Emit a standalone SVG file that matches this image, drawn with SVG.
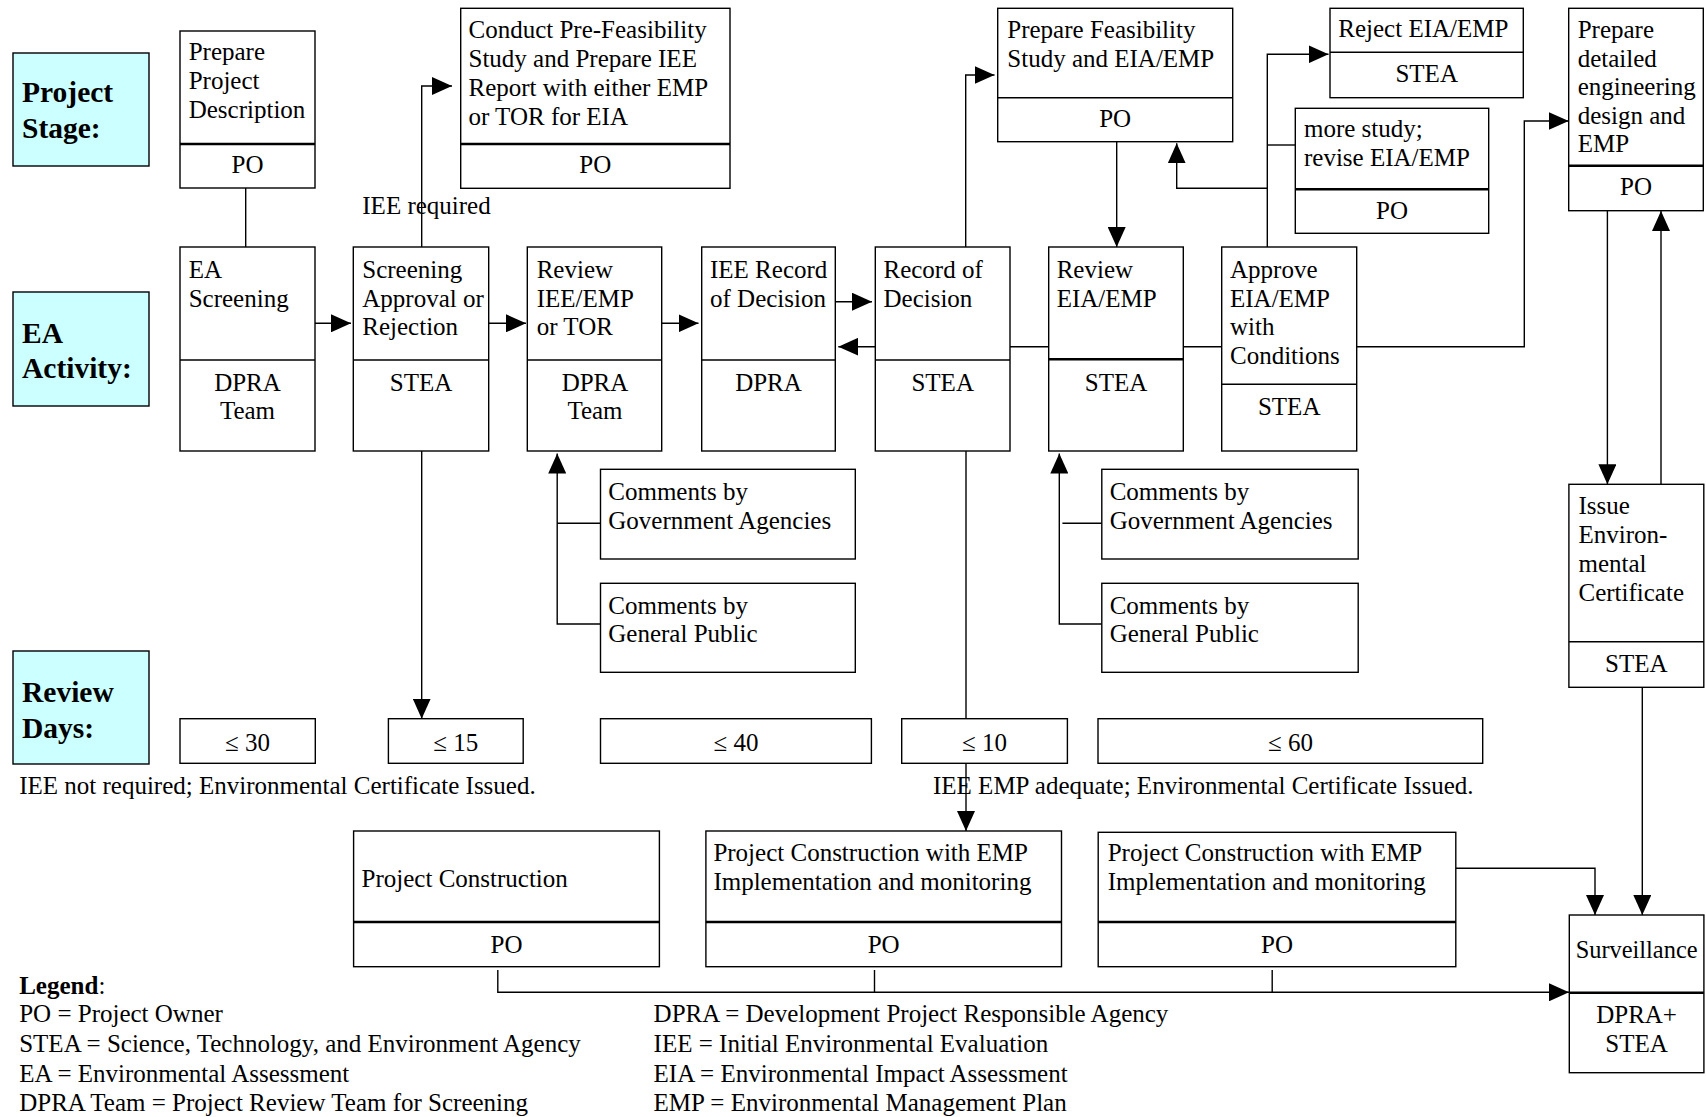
<svg xmlns="http://www.w3.org/2000/svg" width="1706" height="1117" viewBox="0 0 1706 1117">
<style>
text{font-family:"Liberation Serif","Times New Roman",serif;font-size:25px;fill:#000}
.hd{font-weight:bold;font-size:29.5px}
.c{text-anchor:middle}
.box{fill:#fff;stroke:#000;stroke-width:1.4}
.cy{fill:#ccffff;stroke:#000;stroke-width:1.4}
.dv{stroke:#000;stroke-width:1.4;fill:none}
.dvt{stroke:#000;stroke-width:2.4;fill:none}
.ln{stroke:#000;stroke-width:1.4;fill:none}
.ar{stroke:#000;stroke-width:1.4;fill:none;marker-end:url(#ah)}
</style>
<defs>
<marker id="ah" markerUnits="userSpaceOnUse" markerWidth="20" markerHeight="18" refX="20" refY="9" orient="auto">
<path d="M0,0 L20,9 L0,18 z" fill="#000"/>
</marker>
</defs>
<rect width="1706" height="1117" fill="#fff"/>

<!-- row headers -->
<g id="hdr-stage"><rect class="cy" x="13" y="53" width="136" height="113"/><text class="hd" x="22" y="102">Project</text><text class="hd" x="22" y="138">Stage:</text></g>
<g id="hdr-activity"><rect class="cy" x="13" y="292" width="136" height="114"/><text class="hd" x="22" y="343">EA</text><text class="hd" x="22" y="378">Activity:</text></g>
<g id="hdr-days"><rect class="cy" x="13" y="651" width="136" height="113"/><text class="hd" x="22" y="702">Review</text><text class="hd" x="22" y="738">Days:</text></g>

<!-- connectors -->
<g id="connectors">
<path class="ln" d="M245.7,188 V247"/>
<path class="ar" d="M315,323.3 H351"/>
<path class="ar" d="M421.7,247 V86 H452"/>
<path class="ar" d="M488.7,323.3 H526"/>
<path class="ar" d="M661.7,323.3 H698.5"/>
<path class="ar" d="M835.3,301.7 H872"/>
<path class="ar" d="M875.3,346.7 H838.3"/>
<path class="ar" d="M421.7,451 V718.7"/>
<path class="ln" d="M600.5,523.3 H557.2"/>
<path class="ar" d="M600.5,624 H557.2 V453.5"/>
<path class="ar" d="M965.7,247 V75 H994.5"/>
<path class="ar" d="M1116.7,141.7 V247"/>
<path class="ln" d="M1010,346.7 H1048.7"/>
<path class="ln" d="M1183.3,346.7 H1221.7"/>
<path class="ar" d="M1267.3,247 V54.3 H1328.5"/>
<path class="ar" d="M1267.3,188.3 H1176.7 V143.3"/>
<path class="ln" d="M1267.3,145 H1295"/>
<path class="ar" d="M1356.7,346.7 H1524.3 V121 H1568.7"/>
<path class="ar" d="M1607.4,210.7 V484.3"/>
<path class="ar" d="M1661,484.3 V211"/>
<path class="ar" d="M966,451 V831"/>
<path class="ln" d="M1101.8,523.3 H1062.4"/>
<path class="ar" d="M1101.8,624 H1059.3 V453.5"/>
<path class="ar" d="M1642.3,687.3 V915"/>
<path class="ar" d="M1455.8,868.3 H1595 V915"/>
<path class="ar" d="M497.8,970 V992.3 H1569"/>
<path class="ln" d="M874.5,970 V992.3"/>
<path class="ln" d="M1272.2,970 V992.3"/>
</g>

<!-- project stage nodes -->
<g id="prepare-description"><rect class="box" x="180" y="31" width="135" height="157"/><path class="dvt" d="M180,144 H315"/>
<text x="188.7" y="60">Prepare</text><text x="188.7" y="89">Project</text><text x="188.7" y="118">Description</text>
<text class="c" x="247.5" y="173">PO</text></g>

<g id="conduct-prefeasibility"><rect class="box" x="460.7" y="8.3" width="269.3" height="180"/><path class="dvt" d="M460.7,144 H730"/>
<text x="468.5" y="38">Conduct Pre-Feasibility</text><text x="468.5" y="66.7">Study and Prepare IEE</text><text x="468.5" y="95.5">Report with either EMP</text><text x="468.5" y="124.5">or TOR for EIA</text>
<text class="c" x="595.3" y="173">PO</text></g>

<g id="prepare-feasibility"><rect class="box" x="997.7" y="8.3" width="235" height="133.4"/><path class="dv" d="M997.7,97.7 H1232.7"/>
<text x="1007.3" y="38">Prepare Feasibility</text><text x="1007.3" y="66.7">Study and EIA/EMP</text>
<text class="c" x="1115.2" y="127">PO</text></g>

<g id="reject-eia"><rect class="box" x="1330" y="8.3" width="193.3" height="89.4"/><path class="dv" d="M1330,52.3 H1523.3"/>
<text x="1338.3" y="36.7">Reject EIA/EMP</text>
<text class="c" x="1426.7" y="82">STEA</text></g>

<g id="more-study"><rect class="box" x="1295.3" y="108.3" width="193.4" height="125"/><path class="dvt" d="M1295.3,189.3 H1488.7"/>
<text x="1304" y="136.7">more study;</text><text x="1304" y="166.2">revise EIA/EMP</text>
<text class="c" x="1392" y="218.5">PO</text></g>

<g id="prepare-detailed"><rect class="box" x="1568.7" y="8.3" width="134.6" height="202.4"/><path class="dvt" d="M1568.7,165.7 H1703.3"/>
<text x="1577.7" y="38">Prepare</text><text x="1577.7" y="66.5">detailed</text><text x="1577.7" y="95">engineering</text><text x="1577.7" y="123.5">design and</text><text x="1577.7" y="152">EMP</text>
<text class="c" x="1636" y="195">PO</text></g>

<!-- EA activity nodes -->
<g id="ea-screening"><rect class="box" x="180" y="247" width="135" height="204"/><path class="dv" d="M180,360 H315"/>
<text x="188.7" y="278">EA</text><text x="188.7" y="306.7">Screening</text>
<text class="c" x="247.5" y="390.7">DPRA</text><text class="c" x="247.5" y="419.3">Team</text></g>

<g id="screening-approval"><rect class="box" x="353.3" y="247" width="135.4" height="204"/><path class="dv" d="M353.3,360 H488.7"/>
<text x="362.3" y="278">Screening</text><text x="362.3" y="306.7">Approval or</text><text x="362.3" y="335">Rejection</text>
<text class="c" x="421" y="390.7">STEA</text></g>

<g id="review-iee"><rect class="box" x="527.3" y="247" width="134.4" height="204"/><path class="dv" d="M527.3,360 H661.7"/>
<text x="536.7" y="278">Review</text><text x="536.7" y="306.7">IEE/EMP</text><text x="536.7" y="335">or TOR</text>
<text class="c" x="595" y="390.7">DPRA</text><text class="c" x="595" y="419.3">Team</text></g>

<g id="iee-record"><rect class="box" x="701.7" y="247" width="133.6" height="204"/><path class="dv" d="M701.7,360 H835.3"/>
<text x="710" y="278">IEE Record</text><text x="710" y="306.7">of Decision</text>
<text class="c" x="768.5" y="390.7">DPRA</text></g>

<g id="record-decision"><rect class="box" x="875.3" y="247" width="134.7" height="204"/><path class="dv" d="M875.3,360 H1010"/>
<text x="883.5" y="278">Record of</text><text x="883.5" y="306.7">Decision</text>
<text class="c" x="942.7" y="390.7">STEA</text></g>

<g id="review-eia"><rect class="box" x="1048.7" y="247" width="134.6" height="204"/><path class="dvt" d="M1048.7,359.3 H1183.3"/>
<text x="1056.7" y="278">Review</text><text x="1056.7" y="306.7">EIA/EMP</text>
<text class="c" x="1116" y="390.7">STEA</text></g>

<g id="approve-eia"><rect class="box" x="1221.7" y="247" width="135" height="204"/><path class="dv" d="M1221.7,384.3 H1356.7"/>
<text x="1230" y="278">Approve</text><text x="1230" y="306.7">EIA/EMP</text><text x="1230" y="335">with</text><text x="1230" y="363.5">Conditions</text>
<text class="c" x="1289.2" y="415">STEA</text></g>

<!-- comments -->
<g id="comments-gov-1"><rect class="box" x="600.5" y="469.3" width="254.8" height="89.7"/><text x="608.3" y="500">Comments by</text><text x="608.3" y="528.5">Government Agencies</text></g>
<g id="comments-pub-1"><rect class="box" x="600.5" y="583.3" width="254.8" height="89"/><text x="608.3" y="613.5">Comments by</text><text x="608.3" y="642">General Public</text></g>
<g id="comments-gov-2"><rect class="box" x="1101.8" y="469.3" width="256.4" height="89.7"/><text x="1109.7" y="500">Comments by</text><text x="1109.7" y="528.5">Government Agencies</text></g>
<g id="comments-pub-2"><rect class="box" x="1101.8" y="583.3" width="256.4" height="89"/><text x="1109.7" y="613.5">Comments by</text><text x="1109.7" y="642">General Public</text></g>

<g id="issue-certificate"><rect class="box" x="1568.9" y="484.3" width="134.9" height="203"/><path class="dv" d="M1568.9,641.7 H1703.8"/>
<text x="1578.5" y="513.5">Issue</text><text x="1578.5" y="542.5">Environ-</text><text x="1578.5" y="572">mental</text><text x="1578.5" y="601">Certificate</text>
<text class="c" x="1636.3" y="672.3">STEA</text></g>

<!-- review days -->
<g id="days-30"><rect class="box" x="180" y="718.7" width="135.3" height="44.6"/><text class="c" x="247.6" y="750.7">≤ 30</text></g>
<g id="days-15"><rect class="box" x="388.4" y="718.7" width="134.8" height="44.6"/><text class="c" x="455.8" y="750.7">≤ 15</text></g>
<g id="days-40"><rect class="box" x="600.5" y="718.7" width="270.9" height="44.6"/><text class="c" x="736" y="750.7">≤ 40</text></g>
<g id="days-10"><rect class="box" x="901.7" y="718.7" width="165.7" height="44.6"/><text class="c" x="984.5" y="750.7">≤ 10</text></g>
<g id="days-60"><rect class="box" x="1098" y="718.7" width="384.7" height="44.6"/><text class="c" x="1290.4" y="750.7">≤ 60</text></g>

<text id="note-iee-not-required" x="19.2" y="794">IEE not required; Environmental Certificate Issued.</text>
<text id="note-iee-emp-adequate" x="933" y="794">IEE EMP adequate; Environmental Certificate Issued.</text>
<text id="label-iee-required" x="362.3" y="213.5">IEE required</text>

<!-- construction -->
<g id="project-construction"><rect class="box" x="353.6" y="831" width="305.8" height="135.7"/><path class="dvt" d="M353.6,922 H659.4"/>
<text x="361.6" y="887.3">Project Construction</text>
<text class="c" x="506.5" y="952.7">PO</text></g>
<g id="construction-emp-1"><rect class="box" x="705.9" y="831" width="355.6" height="135.7"/><path class="dvt" d="M705.9,922 H1061.5"/>
<text x="713.4" y="861">Project Construction with EMP</text><text x="713.4" y="890">Implementation and monitoring</text>
<text class="c" x="883.7" y="952.7">PO</text></g>
<g id="construction-emp-2"><rect class="box" x="1098.2" y="832.3" width="357.6" height="134.4"/><path class="dvt" d="M1098.2,922 H1455.8"/>
<text x="1107.7" y="861">Project Construction with EMP</text><text x="1107.7" y="890">Implementation and monitoring</text>
<text class="c" x="1277" y="952.7">PO</text></g>
<g id="surveillance"><rect class="box" x="1569.3" y="915" width="134.6" height="157.7"/><path class="dvt" d="M1569.3,992.7 H1703.9"/>
<text class="c" x="1636.6" y="958.3" style="font-size:24.4px">Surveillance</text>
<text class="c" x="1636.6" y="1022.7">DPRA+</text><text class="c" x="1636.6" y="1051.7">STEA</text></g>

<!-- legend -->
<g id="legend">
<text x="19.2" y="994.3"><tspan font-weight="bold">Legend</tspan>:</text>
<text x="19.2" y="1022.3">PO = Project Owner</text>
<text x="19.2" y="1052">STEA = Science, Technology, and Environment Agency</text>
<text x="19.2" y="1081.5">EA = Environmental Assessment</text>
<text x="19.2" y="1110.5">DPRA Team = Project Review Team for Screening</text>
<text x="653.6" y="1022.3">DPRA = Development Project Responsible Agency</text>
<text x="653.6" y="1052">IEE = Initial Environmental Evaluation</text>
<text x="653.6" y="1081.5">EIA = Environmental Impact Assessment</text>
<text x="653.6" y="1110.5">EMP = Environmental Management Plan</text>
</g>
</svg>
